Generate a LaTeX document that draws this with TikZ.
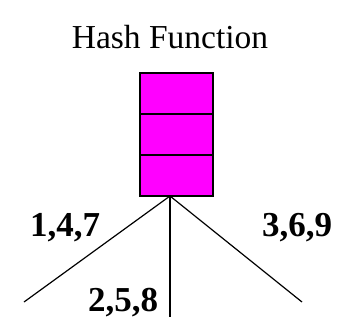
\documentclass[tikz,border=0pt]{standalone}
\usepackage{fontspec}
\setmainfont{Liberation Serif}
\usepackage{tikz}
\usetikzlibrary{positioning}
\definecolor{hashpink}{HTML}{FF00FF}

\begin{document}
\begin{tikzpicture}[x=1pt, y=-1pt,
  cell/.style={draw, line width=1.6pt, fill=hashpink, minimum width=73pt, minimum height=41pt, inner sep=0pt, outer sep=0pt},
  keys/.style={font=\fontsize{35}{36}\selectfont\bfseries, inner sep=0pt},
  branch/.style={line width=1.2pt},
  ]
  \useasboundingbox (0,0) rectangle (339,322);
  \node[font=\fontsize{33.5}{36}\selectfont, inner sep=0pt] (title) at (170,37) {Hash Function};
  \node[cell] (c1) at (176.5,93.5) {};
  \node[cell, below=0pt of c1] (c2) {};
  \node[cell, below=0pt of c2] (c3) {};
  \coordinate (root) at ([xshift=-6.5pt]c3.south);
  \coordinate (leafl) at (24,302);
  \coordinate (leafm) at (170,317);
  \coordinate (leafr) at (302,302);
  \draw[branch] (root) -- (leafl);
  \draw[branch] (root) -- (leafm);
  \draw[branch] (root) -- (leafr);
  \node[keys] (k1) at (65,228) {1,4,7};
  \node[keys] (k2) at (123,303) {2,5,8};
  \node[keys] (k3) at (297,228) {3,6,9};
\end{tikzpicture}
\end{document}
